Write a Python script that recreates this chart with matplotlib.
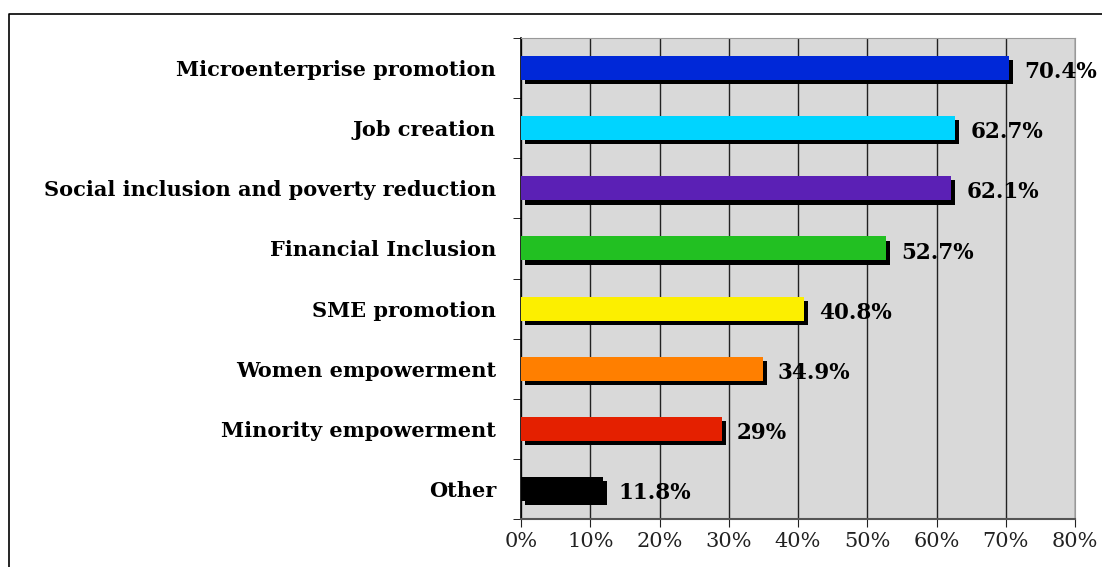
import matplotlib.pyplot as plt
import matplotlib.patheffects as pe
from matplotlib.lines import Line2D

categories = ["Microenterprise promotion", "Job creation",
              "Social inclusion and poverty reduction", "Financial Inclusion",
              "SME promotion", "Women empowerment", "Minority empowerment", "Other"]
values = [70.4, 62.7, 62.1, 52.7, 40.8, 34.9, 29.0, 11.8]
value_labels = ["70.4%", "62.7%", "62.1%", "52.7%", "40.8%", "34.9%", "29%", "11.8%"]
colors = ["#0028D8", "#00D4FF", "#5B20B5", "#22C022",
          "#FCEF00", "#FF7F00", "#E42000", "#000000"]
xticks = [0, 10, 20, 30, 40, 50, 60, 70, 80]

serif = ["DejaVu Serif"]

fig = plt.figure(figsize=(11.02, 5.67), dpi=100)
ax = fig.add_axes([521 / 1102, 1 - 519 / 567, 554 / 1102, 481 / 567])
ax.set_facecolor("#D9D9D9")

ypos = list(range(len(categories)))[::-1]
shadow = [pe.SimplePatchShadow(offset=(3, -3), shadow_rgbFace="black", alpha=1.0), pe.Normal()]
bars = ax.barh(ypos, values, height=0.4, color=colors, zorder=3)
for b in bars:
    b.set_path_effects(shadow)

for y, v, lab in zip(ypos, values, value_labels):
    ax.annotate(lab, (v, y), xytext=(11, -3), textcoords="offset points",
                va="center", ha="left", fontsize=15.5, fontweight="bold",
                family=serif, zorder=4, annotation_clip=False)

ax.set_xlim(0, 80)
ax.set_ylim(-0.5, len(categories) - 0.5)
ax.set_xticks(xticks)
ax.set_xticklabels([f"{t}%" for t in xticks], family=serif, fontsize=15)
ax.set_yticks(ypos)
ax.set_yticklabels(categories, family=serif, fontsize=15, fontweight="bold")
ax.set_yticks([y + 0.5 for y in range(-1, len(categories))], minor=True)
ax.tick_params(axis="y", which="major", length=0, pad=18)
ax.tick_params(axis="y", which="minor", length=6, direction="out")
ax.tick_params(axis="x", length=6, direction="out", colors="#222222")
ax.xaxis.grid(True, color="#222222", linewidth=1.0, zorder=1)
ax.set_axisbelow(True)

ax.spines["left"].set_color("black")
ax.spines["left"].set_linewidth(1.2)
ax.spines["bottom"].set_color("#555555")
ax.spines["bottom"].set_linewidth(1.5)
ax.spines["top"].set_color("#999999")
ax.spines["right"].set_color("#999999")

# outer frame
x0, y0 = 9 / 1102, 1 - 14 / 567
fig.add_artist(Line2D([x0, x0, 1], [0, y0, y0], transform=fig.transFigure,
                      color="black", linewidth=1.2))

fig.savefig("out.png", dpi=100)
